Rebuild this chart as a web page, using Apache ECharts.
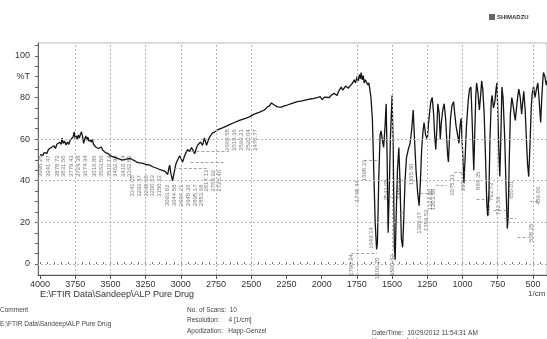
<!DOCTYPE html>
<html>
<head>
<meta charset="utf-8">
<script src="https://cdn.jsdelivr.net/npm/echarts@6/dist/echarts.min.js"></script>
<style>
  html, body { margin: 0; padding: 0; background: #ffffff; }
  #chart { width: 547px; height: 339px; }
</style>
</head>
<body>
<div id="chart"></div>
<script>
// FTIR transmittance spectrum, ALP pure drug (wavenumber in 1/cm, %T)
const WAVENUMBER = [
  4000, 3990, 3980, 3970, 3960, 3950, 3940, 3930, 3920, 3910, 3900, 3890, 3880, 3870, 3860, 3850,
  3843, 3835, 3825, 3815, 3805, 3795, 3785, 3775, 3765, 3757, 3750, 3742, 3735, 3728, 3720, 3712,
  3705, 3697, 3690, 3682, 3675, 3668, 3660, 3652, 3645, 3636, 3628, 3620, 3612, 3604, 3595, 3585,
  3575, 3565, 3555, 3545, 3535, 3525, 3515, 3500, 3480, 3460, 3440, 3420, 3400, 3380, 3360, 3340,
  3313, 3290, 3270, 3245, 3221, 3195, 3171, 3150, 3129, 3110, 3100, 3093, 3085, 3079, 3072, 3065,
  3058, 3050, 3044, 3035, 3023, 3008, 2994, 2987, 2973, 2960, 2952, 2938, 2924, 2912, 2902, 2890,
  2881, 2860, 2846, 2832, 2817, 2805, 2796, 2785, 2775, 2760, 2740, 2700, 2654, 2620, 2584, 2540,
  2513, 2478, 2440, 2407, 2385, 2370, 2357, 2345, 2336, 2314, 2286, 2265, 2244, 2210, 2173, 2140,
  2102, 2070, 2031, 2010, 1996, 1980, 1967, 1946, 1930, 1911, 1900, 1890, 1880, 1870, 1861, 1850,
  1840, 1830, 1819, 1810, 1800, 1790, 1780, 1769, 1760, 1748, 1740, 1732, 1725, 1720, 1712, 1705,
  1698, 1690, 1680, 1672, 1665, 1658, 1650, 1640, 1630, 1620, 1610, 1604, 1595, 1585, 1578, 1570,
  1560, 1550, 1542, 1535, 1528, 1522, 1512, 1500, 1492, 1484, 1478, 1472, 1462, 1452, 1444, 1434,
  1425, 1418, 1408, 1398, 1385, 1372, 1360, 1350, 1342, 1330, 1318, 1308, 1300, 1290, 1280, 1273,
  1262, 1250, 1238, 1225, 1215, 1205, 1198, 1190, 1182, 1175, 1165, 1158, 1150, 1140, 1130, 1120,
  1112, 1105, 1100, 1094, 1085, 1075, 1063, 1055, 1045, 1035, 1025, 1018, 1010, 1000, 990, 982,
  972, 960, 950, 940, 932, 925, 920, 914, 906, 900, 890, 880, 870, 864, 856, 846,
  836, 828, 820, 812, 805, 796, 790, 780, 770, 762, 755, 748, 740, 735, 728, 720,
  712, 700, 690, 682, 676, 668, 660, 650, 640, 632, 625, 615, 605, 600, 590, 580,
  572, 565, 555, 545, 538, 530, 522, 512, 505, 495, 485, 475, 465, 455, 445, 437,
  430, 425, 415, 405, 400
];
const TRANSMITTANCE = [
  52.5, 53.0, 52.2, 53.5, 54.0, 53.2, 55.0, 54.5, 56.0, 55.2, 56.8, 55.5, 57.5, 56.6, 58.5, 57.5,
  60.5, 58.0, 59.0, 57.2, 58.6, 57.5, 59.5, 58.8, 61.0, 63.5, 60.2, 61.5, 59.8, 62.0, 60.5, 62.5,
  63.5, 61.0, 58.0, 60.0, 61.5, 59.5, 61.0, 59.0, 60.0, 58.5, 59.8, 57.5, 58.0, 56.2, 57.0, 55.5,
  55.0, 56.2, 54.8, 55.5, 53.5, 52.8, 53.0, 52.0, 51.5, 51.0, 50.5, 50.0, 50.2, 50.5, 50.8, 50.0,
  49.0, 48.6, 48.3, 47.8, 47.5, 46.6, 46.0, 45.4, 45.0, 44.4, 44.0, 43.0, 46.0, 47.5, 44.0, 42.0,
  40.0, 43.0, 45.0, 48.0, 50.0, 52.0, 50.0, 49.0, 52.0, 54.0, 55.0, 54.0, 56.0, 54.5, 53.0, 55.5,
  57.0, 58.6, 57.0, 60.6, 57.0, 59.5, 61.0, 61.5, 63.0, 63.4, 64.4, 65.5, 67.0, 68.0, 69.0, 70.0,
  70.7, 72.0, 73.0, 74.0, 75.5, 76.0, 77.4, 76.8, 76.4, 75.5, 75.4, 76.0, 76.4, 77.2, 78.0, 78.4,
  79.0, 79.4, 80.0, 80.4, 79.0, 80.2, 80.5, 80.0, 81.2, 82.0, 81.5, 81.0, 83.0, 84.0, 85.0, 83.5,
  84.0, 85.5, 86.0, 84.5, 85.5, 85.0, 87.0, 88.5, 87.0, 90.0, 88.0, 91.0, 89.0, 92.0, 88.5, 90.5,
  87.0, 88.5, 89.0, 86.0, 87.0, 84.0, 80.0, 70.0, 45.0, 20.0, 7.0, 10.0, 40.0, 62.0, 64.0, 60.0,
  56.0, 66.0, 77.0, 50.0, 15.0, 30.0, 60.0, 81.0, 55.0, 8.0, 2.0, 20.0, 45.0, 56.0, 40.0, 12.0,
  8.0, 20.0, 40.0, 51.0, 55.0, 58.0, 65.0, 74.0, 62.0, 45.0, 34.0, 28.0, 38.0, 55.0, 64.0, 68.0,
  62.0, 60.0, 70.0, 78.0, 80.0, 72.0, 62.0, 55.0, 65.0, 77.0, 72.0, 60.0, 68.0, 74.0, 77.0, 70.0,
  60.0, 52.0, 49.0, 58.0, 70.0, 76.0, 78.0, 72.0, 66.0, 62.0, 58.0, 66.0, 70.0, 55.0, 39.0, 50.0,
  66.0, 78.0, 84.0, 85.0, 70.0, 55.0, 45.0, 60.0, 80.0, 87.0, 82.0, 74.0, 82.0, 88.0, 84.0, 72.0,
  50.0, 30.0, 23.0, 35.0, 60.0, 78.0, 81.0, 75.0, 78.0, 84.0, 87.0, 70.0, 50.0, 42.0, 60.0, 85.0,
  80.0, 60.0, 35.0, 17.0, 22.0, 50.0, 72.0, 80.0, 76.0, 72.0, 69.0, 76.0, 82.0, 84.0, 80.0, 72.0,
  78.0, 83.0, 74.0, 58.0, 48.0, 42.0, 55.0, 75.0, 82.0, 85.0, 80.0, 84.0, 87.0, 78.0, 68.0, 80.0,
  88.0, 92.0, 90.0, 86.0, 88.0
];

// Peak-pick annotations: wavenumber printed, and the %T level where each label sits
const PEAK_WN = [
  3996.28, 3941.47, 3878.72, 3831.56, 3779.43, 3724.38, 3674.34, 3616.85, 3563.56, 3510.14, 3462.93, 3410.74, 3362.86,
  3341.05, 3292.47, 3242.18, 3200.63, 3150.32,
  3093.82, 3044.58, 2994.21, 2945.36, 2895.17, 2853.68,
  2817.13, 2768.92, 2725.40,
  2669.58, 2619.36, 2569.21, 2520.04, 2470.77,
  1790.94, 1748.44, 1698.31, 1649.14, 1606.70, 1543.05, 1500.62, 1450.47, 1365.60, 1309.67, 1259.52, 1203.58,
  1224.80, 1075.31, 990.44, 884.35, 813.96, 793.73, 742.59, 650.01, 508.25, 459.06
];
const PEAK_LEVEL = [
  47, 47, 47, 47, 47, 47, 47, 47, 47, 47, 47, 47, 47,
  37.5, 37.5, 37.5, 37.5, 37.5,
  33, 33, 33, 33, 33, 33,
  40, 40, 40,
  59.6, 59.6, 59.6, 59.6, 59.6,
  -0.5, 35, 45, 12.5, -2, 35.6, -0.5, 36.5, 43, 19.7, 21, 31,
  31, 38, 39.4, 40, 28, 34.6, 28, 35.6, 15, 32.7
];

// Dashed leader lines joining peaks to their labels: [from wavenumber, to wavenumber, %T]
const LEADER_FROM = [2960, 2930, 3050, 1790, 1700, 1560, 1480, 1300, 1190, 1060, 900, 780, 700, 610, 520];
const LEADER_TO   = [2660, 2690, 2800, 1606, 1606, 1450, 1420, 1200, 1110, 980, 830, 690, 620, 530, 450];
const LEADER_LEVEL = [54, 49, 46, 5.3, 50, 32, 25, 34, 38, 44, 31, 26, 22, 13, 30];

const X_TICK_LABELS = [4000, 3750, 3500, 3250, 3000, 2750, 2500, 2250, 2000, 1750, 1500, 1250, 1000, 750, 500];
const X_MINOR_TICKS = [];
for (let v = 4000; v >= 450; v -= 50) X_MINOR_TICKS.push(v);
const Y_TICK_LABELS = [0, 20, 40, 60, 80, 90, 100];
const Y_TICKS = [0, 5, 10, 15, 20, 25, 30, 35, 40, 45, 50, 55, 60, 65, 70, 75, 80, 85, 90, 95, 100, 105];
const GRID_X = [3750, 3500, 3250, 3000, 2750, 2500, 1750, 1500, 1250, 1000, 750, 500];
const GRID_Y = [0, 20, 40, 60];

const spectrum = WAVENUMBER.map((w, i) => [w, TRANSMITTANCE[i]]);
const peakLabels = PEAK_WN.map((w, i) => [w, PEAK_LEVEL[i], w.toFixed(2)]);
const leaders = LEADER_FROM.map((w, i) => [
  { coord: [w, LEADER_LEVEL[i]] },
  { coord: [LEADER_TO[i], LEADER_LEVEL[i]] }
]);

const FONT = '"Liberation Sans", Arial, sans-serif';
const chart = echarts.init(document.getElementById('chart'), null, { renderer: 'canvas' });

const xBase = {
  type: 'value',
  inverse: true,
  min: 400,
  max: 4014,
  splitLine: { show: false }
};

chart.setOption({
  animation: false,
  backgroundColor: '#ffffff',
  grid: {
    left: 38, top: 43, width: 510, height: 232,
    show: true, borderColor: '#b8b8b8', borderWidth: 1
  },
  xAxis: [
    Object.assign({}, xBase, {
      position: 'bottom',
      axisLine: { show: true, onZero: false, lineStyle: { color: '#555', width: 1 } },
      axisTick: { show: true, inside: false, length: 4, customValues: X_TICK_LABELS, lineStyle: { color: '#555' } },
      axisLabel: {
        show: true, customValues: X_TICK_LABELS, margin: 5, color: '#333', fontSize: 9, fontFamily: FONT,
        formatter: v => String(v)
      }
    }),
    Object.assign({}, xBase, {
      position: 'bottom',
      axisLine: { show: false },
      axisTick: { show: true, inside: true, length: 2, customValues: X_MINOR_TICKS, lineStyle: { color: '#777' } },
      axisLabel: { show: false }
    })
  ],
  yAxis: {
    type: 'value',
    min: -5.3,
    max: 106.2,
    splitLine: { show: false },
    axisLine: { show: true, onZero: false, lineStyle: { color: '#666' } },
    axisTick: { show: true, length: 3, customValues: Y_TICKS, lineStyle: { color: '#666' } },
    axisLabel: {
      customValues: Y_TICK_LABELS,
      margin: 8,
      color: '#333',
      fontSize: 9,
      fontFamily: FONT,
      formatter: v => (v === 90 ? '%T' : String(v))
    }
  },
  series: [
    {
      // dotted reference grid
      type: 'line',
      data: [],
      z: 1,
      silent: true,
      markLine: {
        silent: true,
        symbol: ['none', 'none'],
        label: { show: false },
        lineStyle: { color: '#b4b4b4', type: [2, 2], width: 1 },
        data: GRID_X.map(v => ({ xAxis: v })).concat(GRID_Y.map(v => ({ yAxis: v })))
      }
    },
    {
      // leader lines from picked peaks to their labels
      type: 'line',
      data: [],
      z: 1,
      silent: true,
      markLine: {
        silent: true,
        symbol: ['none', 'none'],
        label: { show: false },
        lineStyle: { color: '#8a8a8a', type: [3, 2], width: 0.8 },
        data: leaders
      }
    },
    {
      // peak wavenumber annotations
      type: 'scatter',
      data: peakLabels,
      symbolSize: 1,
      itemStyle: { color: 'rgba(0,0,0,0)' },
      z: 2,
      silent: true,
      label: {
        show: true,
        position: 'inside',
        rotate: 90,
        fontSize: 6,
        fontFamily: FONT,
        color: '#555',
        formatter: p => p.value[2]
      }
    },
    {
      name: 'ALP Pure Drug',
      type: 'line',
      data: spectrum,
      symbol: 'none',
      z: 3,
      lineStyle: { color: '#141414', width: 1.3 }
    }
  ],
  graphic: [
    { type: 'rect', left: 489, top: 14, shape: { width: 6, height: 6 }, style: { fill: '#666' } },
    { type: 'text', left: 497, top: 14, style: { text: 'SHIMADZU', font: 'bold 6px ' + FONT, fill: '#333' } },
    { type: 'text', left: 40, top: 290, style: { text: 'E:\\FTIR Data\\Sandeep\\ALP Pure Drug', font: '9px ' + FONT, fill: '#333' } },
    { type: 'text', left: 528, top: 290, style: { text: '1/cm', font: '8px ' + FONT, fill: '#444' } },
    { type: 'text', left: 0, top: 307, style: { text: 'Comment', font: '6.5px ' + FONT, fill: '#444' } },
    { type: 'text', left: 0, top: 321, style: { text: 'E:\\FTIR Data\\Sandeep\\ALP Pure Drug', font: '6.5px ' + FONT, fill: '#444' } },
    { type: 'text', left: 187, top: 307, style: { text: 'No. of Scans:  10', font: '6.5px ' + FONT, fill: '#444' } },
    { type: 'text', left: 187, top: 317, style: { text: 'Resolution:     4 [1/cm]', font: '6.5px ' + FONT, fill: '#444' } },
    { type: 'text', left: 187, top: 328, style: { text: 'Apodization:   Happ-Genzel', font: '6.5px ' + FONT, fill: '#444' } },
    { type: 'text', left: 372, top: 330, style: { text: 'Date/Time:  10/29/2012 11:54:31 AM', font: '6.5px ' + FONT, fill: '#444' } },
    { type: 'text', left: 372, top: 338, style: { text: 'User:          Jaidev', font: '6.5px ' + FONT, fill: '#444' } }
  ]
});
</script>
</body>
</html>
